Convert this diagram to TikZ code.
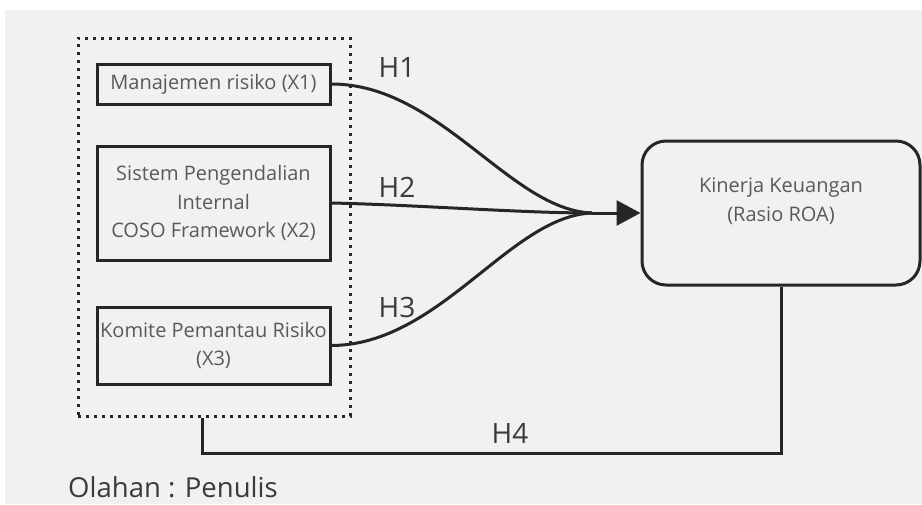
\documentclass[tikz,border=0pt]{standalone}
\usepackage{fontspec}
\setmainfont{Open Sans}
\usetikzlibrary{arrows.meta}
\definecolor{bggray}{HTML}{F1F1F1}
\definecolor{linec}{HTML}{262626}
\definecolor{txtc}{HTML}{5A5A5A}
\definecolor{htxt}{HTML}{3A3A3A}
\tikzset{
  varbox/.style={draw=linec, line width=3pt, fill=none, text=txtc, align=center,
    font=\fontsize{20}{28.5}\selectfont, inner sep=0pt},
  conn/.style={draw=linec, line width=3pt},
  hlabel/.style={text=htxt, font=\fontsize{28}{32}\selectfont, inner sep=0pt},
  dotbox/.style={draw=linec, line width=3pt, dash pattern=on 3pt off 5pt}
}
\begin{document}
\begin{tikzpicture}[x=1pt,y=-1pt]
\useasboundingbox (0,0) rectangle (922,504);
\fill[white] (0,0) rectangle (922,504);
\fill[bggray] (5,10) rectangle (922,504);

\node[dotbox, minimum width=272pt, minimum height=378pt] (grp) at (214,227) {};

\node[varbox, minimum width=233pt, minimum height=40pt] (x1) at (213.5,84) {Manajemen risiko (X1)};
\node[varbox, minimum width=233pt, minimum height=114pt] (x2) at (213.5,203) {Sistem Pengendalian\\Internal\\COSO Framework (X2)};
\node[varbox, minimum width=233pt, minimum height=77pt] (x3) at (213.5,345.5) {Komite Pemantau Risiko\\(X3)};

\node[draw=linec, line width=3pt, rounded corners=24pt, minimum width=278pt, minimum height=144pt] (kin) at (781,213) {};
\node[text=txtc, align=center, font=\fontsize{20}{28.5}\selectfont, inner sep=0pt] (kint) at (781,201) {Kinerja Keuangan\\(Rasio ROA)};

\coordinate (m) at (592,213);
\draw[conn] (x1.east) .. controls (440,84) and (510,210) .. (m);
\draw[conn] (x2.east) .. controls (420,205) and (520,213) .. (m);
\draw[conn] (x3.east) .. controls (440,345) and (510,216) .. (m);
\draw[conn, -{Triangle[length=24pt,width=25pt]}] (m) -- (kin.west);

\coordinate (corner) at (202,453);
\draw[conn] (kin.south) |- (corner) -- (corner |- grp.south);

\node[hlabel] (h1) at (397,68) {H1};
\node[hlabel] (h2) at (397,187) {H2};
\node[hlabel] (h3) at (397,307) {H3};
\node[hlabel] (h4) at (510,433) {H4};

\node[anchor=west, text=htxt, font=\fontsize{27.5}{32}\selectfont, inner sep=0pt] (src) at (68,487) {Olahan : Penulis};
\end{tikzpicture}
\end{document}
